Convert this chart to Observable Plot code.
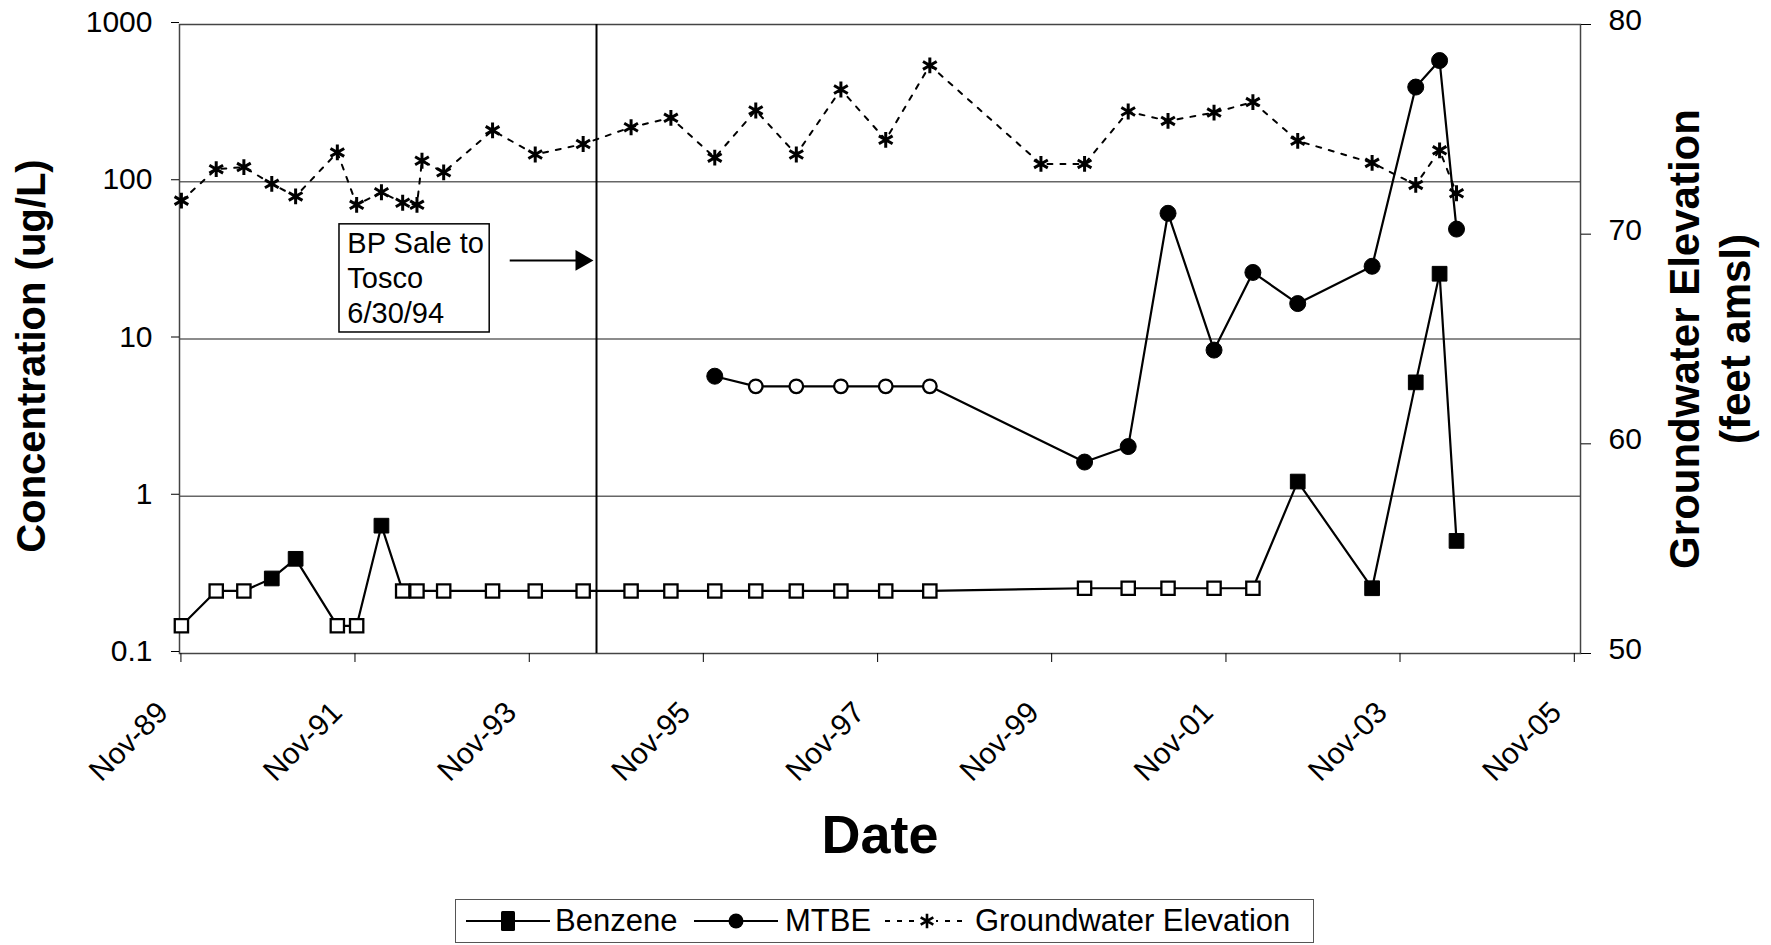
<!DOCTYPE html>
<html>
<head>
<meta charset="utf-8">
<script src="https://cdn.jsdelivr.net/npm/d3@7"></script>
<script src="https://cdn.jsdelivr.net/npm/@observablehq/plot@0.6"></script>
<style>
  body { margin: 0; background: #fff; font-family: "Liberation Sans", Arial, sans-serif; }
  #wrap { position: relative; width: 1771px; height: 945px; overflow: hidden; }
  #legend { position: absolute; left: 455px; top: 899px; width: 857px; height: 42px; border: 1.5px solid #555; box-sizing: content-box; }
  #legend .sw { position: absolute; top: 6px; }
  #legend .lab { position: absolute; top: 0; line-height: 42px; font-size: 31px; color: #000; white-space: nowrap; }
</style>
</head>
<body>
<div id="wrap">
  <div id="chart"></div>
  <div id="legend"></div>
</div>
<script>
// ---------- data ----------
const benzeneDates = ["1989-11-03","1990-03-29","1990-07-23","1990-11-17","1991-02-25","1991-08-19","1991-11-08","1992-02-20","1992-05-19","1992-07-18","1992-11-07","1993-05-31","1993-11-26","1994-06-15","1995-01-02","1995-06-18","1995-12-19","1996-06-08","1996-11-25","1997-05-31","1997-12-05","1998-06-08","2000-03-18","2000-09-17","2001-03-03","2001-09-12","2002-02-22","2002-08-29","2003-07-07","2004-01-06","2004-04-15","2004-06-25"];
const benzeneValues = [0.15,0.25,0.25,0.30,0.40,0.15,0.15,0.65,0.25,0.25,0.25,0.25,0.25,0.25,0.25,0.25,0.25,0.25,0.25,0.25,0.25,0.25,0.26,0.26,0.26,0.26,0.26,1.24,0.26,5.3,26,0.52];
const benzeneDetected = [false,false,false,true,true,false,false,true,false,false,false,false,false,false,false,false,false,false,false,false,false,false,false,false,false,false,false,true,true,true,true,true];

const mtbeDates = ["1995-12-19","1996-06-08","1996-11-25","1997-05-31","1997-12-05","1998-06-08","2000-03-18","2000-09-17","2001-03-03","2001-09-12","2002-02-22","2002-08-29","2003-07-07","2004-01-06","2004-04-15","2004-06-25"];
const mtbeValues = [5.8,5,5,5,5,5,1.65,2.07,63,8.5,26.5,16.8,29,400,590,50];
const mtbeDetected = [true,false,false,false,false,false,true,true,true,true,true,true,true,true,true,true];

const gwDates = ["1989-11-03","1990-03-29","1990-07-23","1990-11-17","1991-02-25","1991-08-19","1991-11-08","1992-02-20","1992-05-19","1992-07-18","1992-08-08","1992-11-07","1993-05-31","1993-11-26","1994-06-15","1995-01-02","1995-06-18","1995-12-19","1996-06-08","1996-11-25","1997-05-31","1997-12-05","1998-06-08","1999-09-17","2000-03-18","2000-09-17","2001-03-03","2001-09-12","2002-02-22","2002-08-29","2003-07-07","2004-01-06","2004-04-15","2004-06-25"];
const gwElevations = [71.6,73.1,73.2,72.4,71.8,73.9,71.4,72.0,71.5,71.4,73.5,72.95,74.95,73.8,74.3,75.1,75.55,73.65,75.9,73.8,76.9,74.5,78.05,73.35,73.35,75.85,75.4,75.8,76.3,74.45,73.4,72.35,74.0,71.95];

const concTicks = [0.1, 1, 10, 100, 1000];
const gridValues = [1, 10, 100];
const elevTicks = [50, 60, 70, 80];
const xTickDates = ["1989-11-01","1991-11-01","1993-11-01","1995-11-01","1997-11-01","1999-11-01","2001-11-01","2003-11-01","2005-11-01"];
const xDomain = ["1989-10-26","2005-11-27"];

const saleLineDate = "1994-08-10";
const noteText = "BP Sale to\nTosco\n6/30/94";
const noteBoxDates = ["1991-08-28","1993-05-19"];
const noteBoxValues = [53.6, 11.0];
const noteTextDate = "1991-09-30";
const noteTextValue = 50.5;
const arrowDates = ["1993-08-11","1994-06-08"];
const arrowValue = 31.6;

// ---------- build ----------
const parse = d3.utcParse("%Y-%m-%d");
const fmt = d3.utcFormat("%b-%y");
const toConc = e => Math.pow(10, -1 + (e - 50) * 4 / 30);

const benzene = benzeneDates.map((d, i) => ({date: parse(d), value: benzeneValues[i], detected: benzeneDetected[i]}));
const mtbe = mtbeDates.map((d, i) => ({date: parse(d), value: mtbeValues[i], detected: mtbeDetected[i]}));
const gw = gwDates.map((d, i) => ({date: parse(d), conc: toConc(gwElevations[i])}));
const xTicks = xTickDates.map(parse);

const font = '"Liberation Sans", Arial, sans-serif';

const chart = Plot.plot({
  width: 1771,
  height: 890,
  marginLeft: 179,
  marginRight: 191,
  marginTop: 24,
  marginBottom: 237,
  style: {fontFamily: font, fontSize: "30px", color: "black", background: "white", overflow: "visible"},
  x: {type: "utc", domain: xDomain.map(parse)},
  y: {type: "log", domain: [0.1, 1000]},
  marks: [
    Plot.ruleY(gridValues, {stroke: "#666", strokeWidth: 1.3}),
    Plot.frame({stroke: "#444", strokeWidth: 1.5}),
    Plot.ruleX([parse(saleLineDate)], {stroke: "black", strokeWidth: 2}),
    // left axis
    Plot.axisY({ticks: concTicks, tickFormat: d => String(d), tickSize: 8, tickPadding: 19, label: null, fontSize: 30, dy: -2}),
    // right axis (elevation mapped onto the log scale)
    Plot.axisY({anchor: "right", ticks: elevTicks.map(toConc), tickFormat: () => "", tickSize: 10, label: null}),
    Plot.text(elevTicks, {y: d => toConc(d), frameAnchor: "right", text: d => String(d), textAnchor: "start", lineAnchor: "middle", dx: 28, dy: -4, fontSize: 30}),
    // x axis
    Plot.axisX({ticks: xTicks, tickSize: 9, tickFormat: () => "", label: null}),
    Plot.text(xTicks, {x: d => d, frameAnchor: "bottom", text: d => fmt(d), rotate: -45, textAnchor: "end", lineAnchor: "middle", dx: -18, dy: 54, fontSize: 30}),
    // titles
    Plot.text(["Concentration (ug/L)"], {frameAnchor: "left", text: d => d, rotate: -90, textAnchor: "middle", dx: -147, dy: 17, fontSize: 40, fontWeight: "bold", lineAnchor: "middle"}),
    Plot.text(["Groundwater Elevation\n(feet amsl)"], {frameAnchor: "right", text: d => d, rotate: -90, textAnchor: "middle", dx: 128, fontSize: 42, fontWeight: "bold", lineHeight: 1.21, lineAnchor: "middle"}),
    Plot.text(["Date"], {frameAnchor: "bottom", text: d => d, textAnchor: "middle", dy: 182, fontSize: 54, fontWeight: "bold", lineAnchor: "middle"}),
    // annotation
    Plot.rect([0], {x1: () => parse(noteBoxDates[0]), x2: () => parse(noteBoxDates[1]), y1: () => noteBoxValues[0], y2: () => noteBoxValues[1], fill: "white", stroke: "black", strokeWidth: 1.5}),
    Plot.text([noteText], {x: () => parse(noteTextDate), y: () => noteTextValue, text: d => d, textAnchor: "start", lineAnchor: "top", lineHeight: 1.2, fontSize: 29}),
    Plot.link([0], {x1: () => parse(arrowDates[0]), x2: () => parse(arrowDates[1]), y1: () => arrowValue, y2: () => arrowValue, stroke: "black", strokeWidth: 2}),
    Plot.dot([0], {x: () => parse(arrowDates[1]), y: () => arrowValue, symbol: "triangle", rotate: 90, r: 7.7, fill: "black", stroke: "none"}),
    // series
    Plot.line(gw, {x: "date", y: "conc", stroke: "black", strokeWidth: 2, strokeDasharray: "5,8"}),
    Plot.line(benzene, {x: "date", y: "value", stroke: "black", strokeWidth: 2.2}),
    Plot.line(mtbe, {x: "date", y: "value", stroke: "black", strokeWidth: 2.2}),
    Plot.dot(gw, {x: "date", y: "conc", symbol: "asterisk", r: 7.5, stroke: "black", strokeWidth: 3}),
    Plot.dot(benzene, {filter: d => !d.detected, x: "date", y: "value", symbol: "square", r: 7.5, fill: "white", stroke: "black", strokeWidth: 2.3}),
    Plot.dot(benzene, {filter: d => d.detected, x: "date", y: "value", symbol: "square", r: 8.3, fill: "black", stroke: "black", strokeWidth: 1}),
    Plot.dot(mtbe, {filter: d => !d.detected, x: "date", y: "value", symbol: "circle", r: 6.8, fill: "white", stroke: "black", strokeWidth: 2.3}),
    Plot.dot(mtbe, {filter: d => d.detected, x: "date", y: "value", symbol: "circle", r: 8, fill: "black", stroke: "black", strokeWidth: 1})
  ]
});
document.getElementById("chart").appendChild(chart);

// ---------- legend ----------
const legendItems = [
  {label: "Benzene", swatchLeft: 10, textLeft: 99, marker: "square", dash: null},
  {label: "MTBE", swatchLeft: 238, textLeft: 329, marker: "circle", dash: null},
  {label: "Groundwater Elevation", swatchLeft: 429, textLeft: 519, marker: "asterisk", dash: "5,7"}
];
const legend = d3.select("#legend");
for (const item of legendItems) {
  const svg = legend.append("svg").attr("class", "sw").attr("width", 84).attr("height", 30).style("left", item.swatchLeft + "px");
  svg.append("line").attr("x1", 0).attr("x2", 84).attr("y1", 15).attr("y2", 15).attr("stroke", "black").attr("stroke-width", 2.2).attr("stroke-dasharray", item.dash);
  if (item.marker === "square") {
    svg.append("rect").attr("x", 35).attr("y", 5).attr("width", 14).attr("height", 20).attr("rx", 1.5).attr("fill", "black");
  } else if (item.marker === "circle") {
    svg.append("circle").attr("cx", 42).attr("cy", 15).attr("r", 7.5).attr("fill", "black");
  } else {
    svg.append("rect").attr("x", 33).attr("y", 3).attr("width", 18).attr("height", 24).attr("fill", "white");
    svg.append("path").attr("transform", "translate(42,15)").attr("d", d3.symbol(d3.symbolAsterisk, 150)())
      .attr("fill", "none").attr("stroke", "black").attr("stroke-width", 2.6);
  }
  legend.append("span").attr("class", "lab").style("left", item.textLeft + "px").text(item.label);
}
</script>
</body>
</html>
